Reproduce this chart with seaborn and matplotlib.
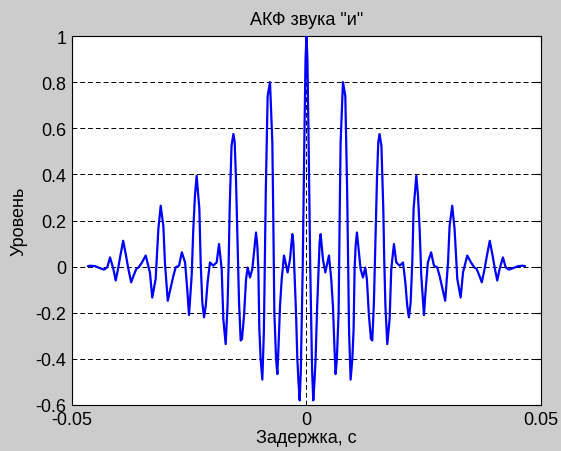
import numpy as np
import pandas as pd
import matplotlib
matplotlib.use("Agg")
import matplotlib.pyplot as plt
import seaborn as sns

# Positive-lag half of the ACF (ms, level); ACF is symmetric
lag_ms = [0.0, 0.2, 0.45, 0.8, 1.2, 1.45, 1.7, 1.95, 2.23, 2.58, 2.8, 3.02, 3.52, 4.02,
          4.79, 5.28, 5.64, 5.98, 6.21, 6.48, 6.85, 7.08, 7.28, 7.58, 7.78, 8.28, 8.48,
          8.68, 8.88, 9.08, 9.41, 9.78, 10.05, 10.26, 10.48, 10.76, 11.12, 11.54, 12.04,
          12.54, 12.88, 13.32, 13.75, 14.03, 14.38, 14.74, 15.03, 15.31, 15.58, 15.98,
          16.38, 16.58, 16.83, 17.23, 17.73, 18.08, 18.65, 19.15, 19.88, 20.58, 21.08,
          21.48, 21.85, 22.21, 22.56, 22.84, 23.42, 23.78, 24.13, 24.48, 25.05, 25.38,
          25.88, 26.58, 27.18, 27.88, 28.38, 29.58, 30.18, 30.52, 31.08, 31.58, 32.16,
          32.88, 33.38, 34.28, 35.08, 35.78, 36.28, 36.88, 37.38, 37.98, 38.48, 39.08,
          39.68, 40.18, 40.68, 41.18, 41.88, 42.48, 43.18, 43.98, 45.08, 46.18, 46.6]
level = [1.0, 0.9, 0.55, 0.0, -0.45, -0.58, -0.50, -0.40, -0.20, -0.01, 0.105, 0.141,
         0.03, -0.025, 0.048, -0.054, -0.17, -0.357, -0.466, -0.40, -0.20, 0.22, 0.54,
         0.70, 0.80, 0.74, 0.54, 0.32, 0.02, -0.28, -0.49, -0.40, -0.27, -0.01, 0.09,
         0.148, 0.076, -0.01, -0.047, -0.004, -0.054, -0.213, -0.314, -0.32, -0.155,
         0.134, 0.38, 0.54, 0.575, 0.524, 0.25, 0.03, -0.17, -0.336, -0.227, -0.01,
         0.098, 0.018, 0.004, 0.018, -0.068, -0.17, -0.22, -0.155, 0.018, 0.25, 0.394,
         0.307, 0.163, -0.04, -0.21, -0.11, 0.018, 0.062, 0.004, -0.003, -0.04, -0.148,
         0.018, 0.177, 0.264, 0.163, -0.054, -0.134, -0.025, 0.048, 0.018, -0.003,
         -0.01, -0.04, -0.068, -0.01, 0.048, 0.112, 0.048, -0.01, -0.06, -0.01, 0.04,
         -0.003, -0.013, -0.007, 0.002, 0.004, 0.002]

xticks = [-0.05, 0, 0.05]
xticklabels = ["-0.05", "0", "0.05"]
yticks = [-0.6, -0.4, -0.2, 0, 0.2, 0.4, 0.6, 0.8, 1]
yticklabels = ["-0.6", "-0.4", "-0.2", "0", "0.2", "0.4", "0.6", "0.8", "1"]

title = 'АКФ звука "и"'
xlabel = "Задержка, с"
ylabel = "Уровень"

half_t = np.array(lag_ms) / 1000.0
half_v = np.array(level)
t = np.concatenate([-half_t[::-1], half_t[1:]])
v = np.concatenate([half_v[::-1], half_v[1:]])
df = pd.DataFrame({"t": t, "v": v})

sns.set_style("white")
plt.rcParams["font.family"] = ["Liberation Sans", "DejaVu Sans"]
plt.rcParams["text.color"] = "black"
plt.rcParams["axes.labelcolor"] = "black"
plt.rcParams["xtick.color"] = "black"
plt.rcParams["ytick.color"] = "black"

bg = "#cccccc"
fig = plt.figure(figsize=(5.61, 4.52), dpi=100, facecolor=bg)
ax = fig.add_axes([0.1283, 0.1018, 0.9643 - 0.1283, 0.9181 - 0.1018])
ax.set_facecolor("white")

sns.lineplot(data=df, x="t", y="v", sort=False, estimator=None, color="#0000ff",
             linewidth=1.6, ax=ax, zorder=3)

ax.set_xlim(-0.05, 0.05)
ax.set_ylim(-0.6, 1.0)
ax.set_xticks(xticks)
ax.set_xticklabels(xticklabels)
ax.set_yticks(yticks)
ax.set_yticklabels(yticklabels)
ax.grid(True, color="black", linestyle=(0, (5, 3)), linewidth=0.7, zorder=1)
ax.set_axisbelow(True)
ax.tick_params(direction="in", length=4, width=0.8, top=True, right=True,
               labelsize=13, colors="black", pad=4)
for s in ax.spines.values():
    s.set_visible(True)
    s.set_color("black")
    s.set_linewidth(0.8)

ax.set_title(title, fontsize=13, pad=9, color="black")
ax.set_xlabel(xlabel, fontsize=13, labelpad=1)
ax.set_ylabel(ylabel, fontsize=13, labelpad=6)

fig.savefig("out.png", dpi=100, facecolor=bg)
